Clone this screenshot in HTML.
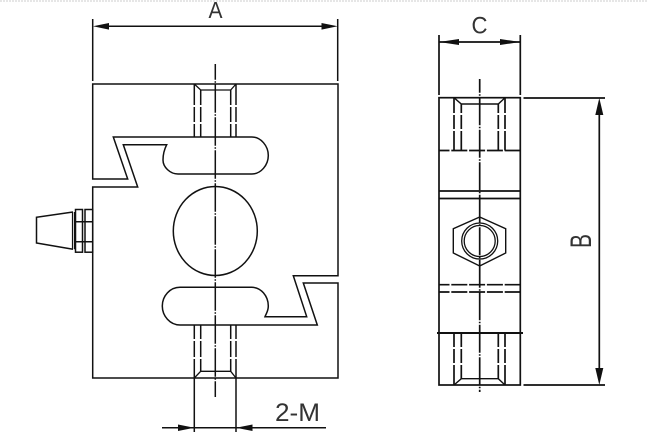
<!DOCTYPE html>
<html><head><meta charset="utf-8"><style>
html,body{margin:0;padding:0;background:#fff}
svg{display:block}
text{font-family:"Liberation Sans",sans-serif;fill:#333}
</style></head><body>
<svg width="648" height="434" viewBox="0 0 648 434" xmlns="http://www.w3.org/2000/svg">
<line x1="0" y1="1" x2="648" y2="1" stroke="#ccc" stroke-width="1" stroke-dasharray="2 1"/>
<g fill="none" stroke="#111" stroke-width="1.5">
<!-- left body -->
<path d="M92.7 179V84H338V275.7H293.3L306.7 316.7H265C266.5 313 268.3 311 268.3 306C268.3 296 261 287.3 251.7 287.3H180C170 287.3 162.3 296 162.3 306C162.3 316 170 325 180 325H317.3L303.3 283H338V378H92.7V187H137.7L123.3 144.7H166.7C164 150 163 155 163 160C163 167 170 174 178 174H251.7C261 174 268.3 165 268.3 155.5C268.3 146 261 137 251.7 137H113.3L127.7 179Z"/>
<ellipse cx="215.3" cy="231" rx="42" ry="44.5"/>
<!-- left threads -->
<path d="M194.3 84L200.7 90H230.7L236 84M200.7 90M194.3 378L200.7 371.3H230.7L236 378" stroke-width="1.3"/>
<path d="M194.3 84V105M194.3 107V122M194.3 124V137M200.7 90V105M200.7 107V122M200.7 124V137M230.7 90V105M230.7 107V122M230.7 124V137M236 84V105M236 107V122M236 124V137"/>
<path d="M194.3 325V339M194.3 341V357M194.3 359V378M200.7 325V339M200.7 341V357M200.7 359V371M230.7 325V339M230.7 341V357M230.7 359V371M236 325V339M236 341V357M236 359V378"/>
<line x1="215.3" y1="64" x2="215.3" y2="397" stroke-dasharray="28.5 1.5 1.5 1.5" stroke-dashoffset="12.75"/>
<!-- connector -->
<path d="M73 212L36.5 217.3V243L73 249.3"/>
<path d="M72.5 212V249.3M74.5 212V249.3" stroke-width="1.2"/>
<rect x="75.5" y="209.5" width="7" height="42.7"/>
<rect x="85" y="209.5" width="7.7" height="42.7"/>
<path d="M75.5 221.7H92.7M75.5 241.7H92.7"/>
<!-- A dim -->
<path d="M92.7 19V81M337.7 19V81M100 26.3H330"/>
<!-- 2-M dim -->
<path d="M194.3 378V432M236 378V432M162 427.7H326"/>
</g>
<g fill="#111">
<path d="M93 26.3L109 23V29.6Z"/>
<path d="M337.7 26.3L321.5 23V29.6Z"/>
<path d="M194.3 427.7L178 424.5V431Z"/>
<path d="M236 427.7L252.5 424.5V431Z"/>
<path d="M439 42L459 39V45Z"/>
<path d="M520.3 42L500 39V45Z"/>
<path d="M599.3 98L595.3 115H603.3Z"/>
<path d="M599.3 385L595.3 368H603.3Z"/>
</g>
<g fill="none" stroke="#111" stroke-width="1.7">
<!-- right body -->
<rect x="439" y="97.7" width="81.3" height="287.3"/>
<path d="M439 42H520.3M439 35V95M520.3 35V95"/>
<path d="M523.5 98H605M523.5 385H605M599.3 105V378"/>
<path d="M439 191H520.3M439 198.5H520.3"/>
<path d="M437 333H523" stroke-width="2"/>
<g stroke-dasharray="16 1.8" stroke-dashoffset="5.5">
<path d="M439 150.5H520.3M439 284.7H520.3M439 292H520.3"/>
</g>
<!-- right threads -->
<path d="M454 97.7L461.3 104H498.3L505 97.7M454 385L461.3 378.7H498.3L505 385" stroke-width="1.4"/>
<path d="M454 98V113M454 115V129M454 131V150.5M461.3 104V113M461.3 115V129M461.3 131V150.5M498.3 104V113M498.3 115V129M498.3 131V150.5M505 98V113M505 115V129M505 131V150.5"/>
<path d="M454 333V347M454 349V363M454 365V385M461.3 333V347M461.3 349V363M461.3 365V379M498.3 333V347M498.3 349V363M498.3 365V379M505 333V347M505 349V363M505 365V385"/>
<line x1="479.7" y1="79" x2="479.7" y2="392" stroke-dasharray="28 1.5 1.5 1.5" stroke-dashoffset="14.25"/>
<!-- hex -->
<path d="M479.7 217L505.7 228.7V253L479.7 266L453.3 253V228.7Z" stroke-width="1.4"/>
<circle cx="479.7" cy="241" r="18" stroke-width="1.3"/>
<circle cx="479.7" cy="241" r="15.5" stroke-width="1.3"/>
</g>
<text x="208.5" y="18" font-size="23" textLength="14" lengthAdjust="spacingAndGlyphs">A</text>
<text x="471.5" y="33.5" font-size="24" textLength="16" lengthAdjust="spacingAndGlyphs">C</text>
<text x="275" y="421" font-size="25" textLength="45" lengthAdjust="spacingAndGlyphs">2-M</text>
<text transform="translate(591 248) rotate(-90)" x="0" y="0" font-size="30" textLength="14" lengthAdjust="spacingAndGlyphs">B</text>
</svg>
</body></html>
